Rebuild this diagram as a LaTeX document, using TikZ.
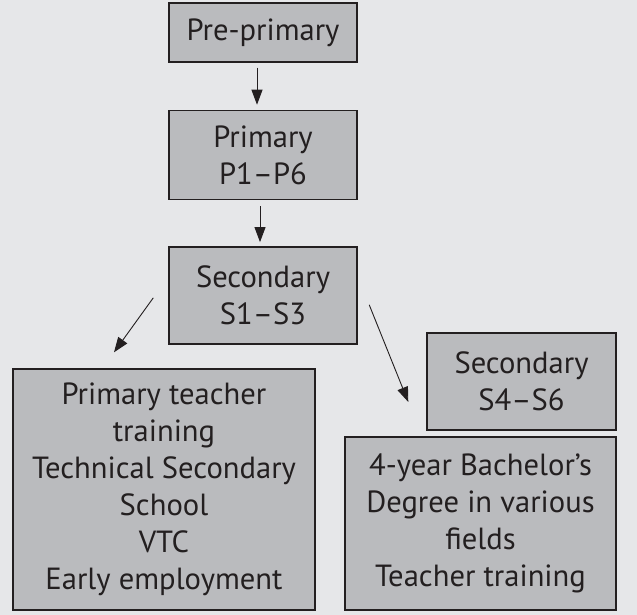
\documentclass[tikz,border=0pt]{standalone}
\usepackage{fontspec}
\setmainfont{PT Sans}
\usetikzlibrary{positioning, arrows.meta}
\definecolor{bgpaper}{HTML}{E6E7E9}
\definecolor{boxgray}{HTML}{BABBBE}
\definecolor{inkdark}{HTML}{231F20}
\tikzstyle{block} = [rectangle, draw=inkdark, fill=boxgray, line width=1.4pt, text=inkdark, align=center, inner sep=0pt, font=\fontsize{30.6}{37}\selectfont]
\tikzstyle{arrow} = [-{Triangle[length=15pt,width=11pt]}, draw=inkdark, line width=0.9pt]

\begin{document}
\begin{tikzpicture}[x=1pt, y=1pt, node distance=47pt]
    % fond
    \fill[bgpaper] (0,0) rectangle (637,-615);
    \useasboundingbox (0,0) rectangle (637,-615);

    % tronc commun
    \node [block, minimum width=188pt, minimum height=59pt] (pre) at (263,-32.5) {Pre-primary};
    \node [block, minimum width=188pt, minimum height=89pt, below=of pre] (prim) {Primary\\P1--P6};
    \node [block, minimum width=188pt, minimum height=97pt, below=46pt of prim] (sec1) {Secondary\\S1--S3};

    % filières après S3
    \node [block, minimum width=189pt, minimum height=97pt] (sec2) at (521.5,-381.5) {Secondary\\S4--S6};
    \node [block, minimum width=302pt, minimum height=241pt] (tech) at (164,-489.5)
        {Primary teacher\\training\\Technical Secondary\\School\\VTC\\Early employment};
    \node [block, minimum width=271pt, minimum height=173pt] (bach) at (480.5,-523.5)
        {4-year Bachelor’s\\Degree in various\\fields\\Teacher training};

    % flèches
    \draw [arrow, shorten <=5pt, shorten >=5pt] ([xshift=-6pt]pre.south) -- ([xshift=-6pt]prim.north);
    \draw [arrow, shorten <=6pt, shorten >=4pt] ([xshift=-3pt]prim.south) -- ([xshift=-3pt]sec1.north);
    \draw [arrow] ([shift={(-15pt,-2.5pt)}]sec1.west) -- ([shift={(-50pt,16pt)}]tech.north);
    \draw [arrow] ([shift={(11.5pt,-9.5pt)}]sec1.east) -- ([shift={(-18pt,-20.5pt)}]sec2.west);
\end{tikzpicture}
\end{document}
